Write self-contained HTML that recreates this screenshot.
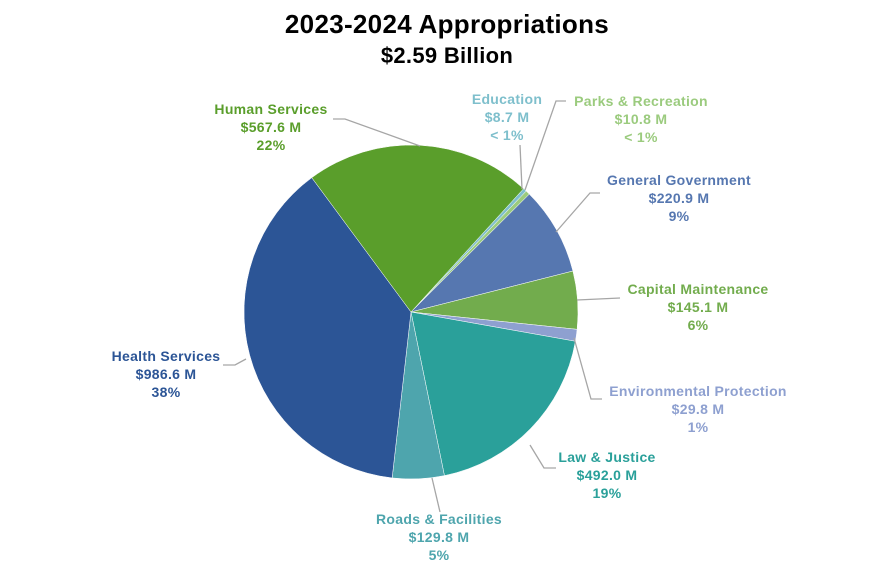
<!DOCTYPE html>
<html><head><style>
body{margin:0;background:#fff;}
svg text{font-family:"Liberation Sans",Arial,sans-serif;font-weight:bold;}
</style></head><body>
<svg id="s" width="895" height="574" viewBox="0 0 895 574" xmlns="http://www.w3.org/2000/svg">
<text x="447" y="33" text-anchor="middle" font-size="26" fill="#000" letter-spacing="0.3">2023-2024  Appropriations</text>
<text x="447" y="63" text-anchor="middle" font-size="22" fill="#000" letter-spacing="0.3">$2.59 Billion</text>
<g id="pie"></g>
<g stroke="#a6a6a6" stroke-width="1.3" fill="none">
<polyline points="333,119 345,119 420,146"/>
<polyline points="520,145 522,189"/>
<polyline points="566,101 556,101 525,190"/>
<polyline points="600,193 590,193 556,232"/>
<polyline points="620,298 577,300"/>
<polyline points="602,399 591,399 574,338"/>
<polyline points="556,468 544,468 530,445"/>
<polyline points="440,512 432,478"/>
<polyline points="223,365 235,365 246,359"/>
</g>
<g font-size="14" text-anchor="middle" letter-spacing="0.3">
<text fill="#5a9e2b"><tspan x="271" y="114">Human Services</tspan><tspan x="271" y="132">$567.6 M</tspan><tspan x="271" y="150">22%</tspan></text>
<text fill="#7ebfcc"><tspan x="507" y="104">Education</tspan><tspan x="507" y="122">$8.7 M</tspan><tspan x="507" y="140">&lt; 1%</tspan></text>
<text fill="#9bcb7e"><tspan x="641" y="106">Parks &amp; Recreation</tspan><tspan x="641" y="124">$10.8 M</tspan><tspan x="641" y="142">&lt; 1%</tspan></text>
<text fill="#5677b0"><tspan x="679" y="185">General Government</tspan><tspan x="679" y="203">$220.9 M</tspan><tspan x="679" y="221">9%</tspan></text>
<text fill="#72ac4d"><tspan x="698" y="294">Capital Maintenance</tspan><tspan x="698" y="312">$145.1 M</tspan><tspan x="698" y="330">6%</tspan></text>
<text fill="#8ea0d0"><tspan x="698" y="396">Environmental Protection</tspan><tspan x="698" y="414">$29.8 M</tspan><tspan x="698" y="432">1%</tspan></text>
<text fill="#2aa09a"><tspan x="607" y="462">Law &amp; Justice</tspan><tspan x="607" y="480">$492.0 M</tspan><tspan x="607" y="498">19%</tspan></text>
<text fill="#4ea5ad"><tspan x="439" y="524">Roads &amp; Facilities</tspan><tspan x="439" y="542">$129.8 M</tspan><tspan x="439" y="560">5%</tspan></text>
<text fill="#2c5596"><tspan x="166" y="361">Health Services</tspan><tspan x="166" y="379">$986.6 M</tspan><tspan x="166" y="397">38%</tspan></text>
</g>
</svg>
<script>
var d=[[8.7,"#7ebfcc"],[10.8,"#9bcb7e"],[220.9,"#5677b0"],[145.1,"#72ac4d"],[29.8,"#8ea0d0"],[492,"#2aa09a"],[129.8,"#4ea5ad"],[986.6,"#2c5596"],[567.6,"#5a9e2b"]];
var T=0;d.forEach(function(e){T+=e[0]});
var cx=411,cy=312,r=167,a=42.4,g=document.getElementById("pie"),h="";
function p(t){t=t*Math.PI/180;return (cx+r*Math.sin(t)).toFixed(2)+","+(cy-r*Math.cos(t)).toFixed(2);}
d.forEach(function(e){var s=e[0]/T*360,b=a+s;h+='<path d="M'+cx+','+cy+' L'+p(a)+' A'+r+','+r+' 0 '+(s>180?1:0)+' 1 '+p(b)+' Z" fill="'+e[1]+'" stroke="#fff" stroke-width="0.5"/>';a=b;});
g.innerHTML=h;
</script>
</body></html>
